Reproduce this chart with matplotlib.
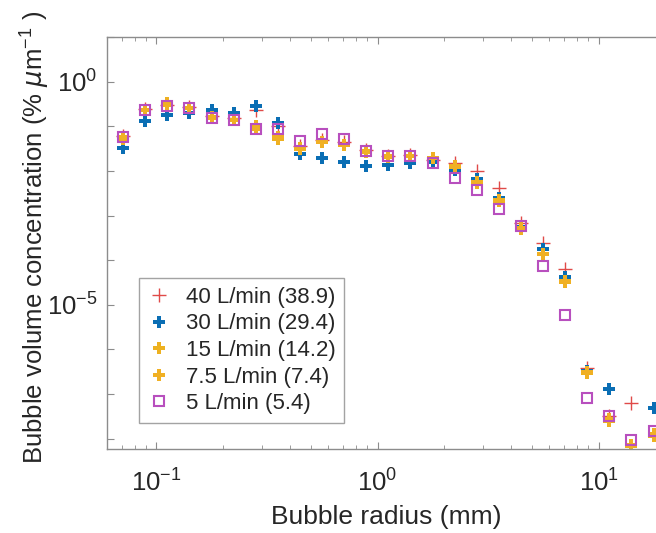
import numpy as np
import matplotlib
matplotlib.use('Agg')
import matplotlib.pyplot as plt
from matplotlib.ticker import LogLocator, NullFormatter, NullLocator

plt.rcParams['font.family'] = ['Liberation Sans', 'DejaVu Sans']
plt.rcParams['mathtext.default'] = 'regular'

# bubble radius bins (mm)
radius = [0.0708, 0.0891, 0.112, 0.141, 0.178, 0.224, 0.282, 0.355, 0.447, 0.562,
          0.708, 0.891, 1.12, 1.41, 1.78, 2.24, 2.82, 3.55, 4.47, 5.62,
          7.08, 8.91, 11.2, 14.1, 17.8]

# volume concentration (% um^-1), one list per flow rate
q40 = [0.0603, 0.240, 0.302, 0.269, 0.166, 0.151, 0.234, 0.100, 0.0355, 0.0501,
       0.0447, 0.0288, 0.0219, 0.0224, 0.0178, 0.0151, 0.0100, 0.00407, 6.9e-4, 2.45e-4,
       6.2e-5, 3.9e-7, 3.2e-8, 6.2e-8, np.nan]
q30 = [0.0331, 0.129, 0.182, 0.200, 0.234, 0.200, 0.288, 0.120, 0.0245, 0.0195,
       0.0158, 0.0129, 0.0138, 0.0151, 0.0158, 0.0107, 0.00646, 0.00251, 5.6e-4, 1.74e-4,
       4.1e-5, 3.3e-7, 1.29e-7, np.nan, 5.0e-8]
q15 = [0.0525, 0.229, 0.324, 0.263, 0.158, 0.141, 0.100, 0.0525, 0.0331, 0.0447,
       0.0389, 0.0282, 0.0209, 0.0219, 0.0195, 0.0129, 0.00537, 0.00209, 4.9e-4, 1.35e-4,
       3.2e-5, 3.0e-7, 2.5e-8, 6.8e-9, 1.17e-8]
q7_5 = [0.0562, 0.229, 0.302, 0.257, 0.155, 0.141, 0.0891, 0.0562, 0.0316, 0.0447,
        0.0389, 0.0269, 0.0214, 0.0221, 0.0195, 0.0120, 0.00562, 0.00224, 5.2e-4, 1.41e-4,
        3.4e-5, 3.2e-7, 2.8e-8, 7.1e-9, 1.26e-8]
q5 = [0.0575, 0.229, 0.282, 0.257, 0.155, 0.141, 0.0851, 0.0891, 0.0479, 0.0676,
      0.0531, 0.0275, 0.0214, 0.0221, 0.0151, 0.00708, 0.00372, 0.00138, 5.75e-4, 7.6e-5,
      5.9e-6, 8.1e-8, 3.2e-8, 9.5e-9, 1.5e-8]

labels = ['40 L/min (38.9)', '30 L/min (29.4)', '15 L/min (14.2)',
          '7.5 L/min (7.4)', '5 L/min (5.4)']

fig = plt.figure(figsize=(6.56, 5.33), dpi=100)
# axes runs a little past the right edge of the picture
ax = fig.add_axes([0.1638, 0.1576, 0.850, 0.773])

ax.plot(radius, q40, '+', color='#e04a48', ms=10, mew=1.0, label=labels[0])
ax.plot(radius, q30, 'P', color='#0a6eb4', ms=8.5, mew=0, label=labels[1])
ax.plot(radius, q15, 'P', color='#edb120', ms=8.5, mew=0, label=labels[2])
ax.plot(radius, q7_5, 'P', color='#f0b024', ms=8.5, mew=0, label=labels[3])
ax.plot(radius, q5, 's', color='#b84fbe', ms=7.5, mew=1.5, mfc='none', label=labels[4])

ax.set_xscale('log')
ax.set_yscale('log')
ax.set_xlim(0.06, 20)
ax.set_ylim(10 ** -8.23, 10)

ax.set_xticks([0.1, 1, 10])
ax.set_xticklabels(['$10^{-1}$', '$10^{0}$', '$10^{1}$'])
ax.xaxis.set_minor_locator(LogLocator(base=10, subs=np.arange(2, 10)))
ax.xaxis.set_minor_formatter(NullFormatter())

ax.set_yticks([10.0 ** e for e in range(-8, 2)])
ax.set_yticklabels(['$10^{0}$' if e == 0 else ('$10^{-5}$' if e == -5 else '')
                    for e in range(-8, 2)])
ax.yaxis.set_minor_locator(NullLocator())

for s in ax.spines.values():
    s.set_color('#8c8c8c')
    s.set_linewidth(1.0)
ax.tick_params(which='both', direction='in', top=True, right=True,
               color='#8c8c8c', labelcolor='#262626', labelsize=18.5)
ax.tick_params(axis='x', which='major', length=5, pad=15)
ax.tick_params(axis='y', which='major', length=5, pad=7)
ax.tick_params(which='minor', length=3)

ax.set_xlabel('Bubble radius (mm)', fontsize=19, color='#262626', labelpad=6)
ax.set_ylabel('Bubble volume concentration (% $\\mathit{\\mu}$m$^{-1}$ )',
              fontsize=18.5, color='#262626')
ax.yaxis.set_label_coords(-0.0995, 0.513)

leg = ax.legend(loc='lower left', bbox_to_anchor=(0.0565, 0.063), fontsize=16,
                frameon=True, fancybox=False, edgecolor='#8c8c8c',
                handlelength=1.0, handletextpad=0.7, labelspacing=0.25,
                borderpad=0.4, borderaxespad=0)
leg.get_frame().set_linewidth(1.0)
for t in leg.get_texts():
    t.set_color('#262626')

fig.savefig('out.png', dpi=100)
